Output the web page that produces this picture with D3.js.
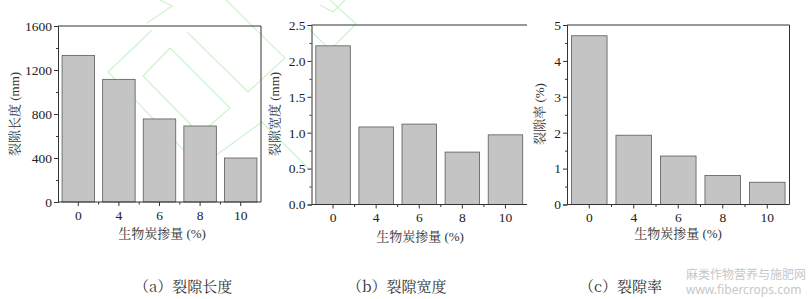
<!DOCTYPE html>
<html>
<head>
<meta charset="utf-8">
<script src="https://cdn.jsdelivr.net/npm/d3@7"></script>
<style>
  body { margin: 0; background: #fff; }
  svg { display: block; }
</style>
</head>
<body>
<div id="chart"></div>
<script>
// biochar dosage (%) - shared x categories
var dosage = ["0", "4", "6", "8", "10"];

// crack length (mm), crack width (mm), crack ratio (%)
var crackLength = [1333, 1115, 755, 691, 400];
var crackWidth = [2.21, 1.08, 1.12, 0.73, 0.97];
var crackRatio = [4.70, 1.93, 1.35, 0.81, 0.62];

var lengthTicks = [0, 400, 800, 1200, 1600];
var widthTicks = [0, 0.5, 1.0, 1.5, 2.0, 2.5];
var ratioTicks = [0, 1, 2, 3, 4, 5];

var xTitle = "生物炭掺量 (%)";

var SERIF = "'Liberation Serif', 'Noto Serif CJK SC', serif";
var SONG = "'Noto Serif CJK SC', 'Liberation Serif', serif";

var W = 809, H = 299;
var svg = d3.select("#chart").append("svg")
    .attr("width", W)
    .attr("height", H);

// faint green watermark outlines behind everything
var wm = svg.append("g").attr("fill", "none").attr("stroke", "#cdf3cd").attr("stroke-width", 1.2);
var wmShapes = [
    [[170, 48], [230, 108], [200, 134], [143, 76], [170, 48]],
    [[187, 32], [248, 92], [285, 58], [226, 0]],
    [[152, 30], [108, 72], [200, 167], [262, 122], [310, 170]],
    [[147, 23], [172, 6], [160, 0]],
    [[307, 27], [330, 50], [356, 24], [330, 0]],
    [[320, 5], [333, 12], [345, 0]]
];
wmShapes.forEach(function (pts) {
    wm.append("path").attr("d", d3.line()(pts));
});

function drawPanel(cfg) {
    var x = d3.scaleBand()
        .domain(dosage)
        .range([cfg.left, cfg.right])
        .paddingInner(0.2)
        .paddingOuter(0.1);
    var y = d3.scaleLinear()
        .domain([0, cfg.max])
        .range([cfg.bottom, cfg.top]);

    var g = svg.append("g");

    // bars
    g.selectAll("rect.bar")
        .data(cfg.values)
        .enter().append("rect")
        .attr("class", "bar")
        .attr("x", function (d, i) { return x(dosage[i]); })
        .attr("y", function (d) { return y(d); })
        .attr("width", x.bandwidth())
        .attr("height", function (d) { return cfg.bottom - y(d); })
        .attr("fill", "#c4c4c4")
        .attr("stroke", "#5a5a5a")
        .attr("stroke-width", 0.8);

    // frame: top + (optional) right
    g.append("line")
        .attr("x1", cfg.left).attr("x2", cfg.frameRight)
        .attr("y1", cfg.top).attr("y2", cfg.top)
        .attr("stroke", "#333");
    if (cfg.rightBorder) {
        g.append("line")
            .attr("x1", cfg.frameRight).attr("x2", cfg.frameRight)
            .attr("y1", cfg.top).attr("y2", cfg.bottom)
            .attr("stroke", "#333");
    }

    // y axis (major + minor)
    var ya = g.append("g")
        .attr("transform", "translate(" + cfg.left + ",0)")
        .call(d3.axisLeft(y)
            .tickValues(cfg.ticks)
            .tickFormat(cfg.fmt)
            .tickSize(4)
            .tickPadding(2));
    var step = cfg.ticks[1] - cfg.ticks[0];
    var minor = cfg.ticks.slice(0, -1).map(function (t) { return t + step / 2; });
    g.append("g")
        .attr("transform", "translate(" + cfg.left + ",0)")
        .call(d3.axisLeft(y).tickValues(minor).tickFormat("").tickSize(2).tickSizeOuter(0))
        .call(function (s) { s.select(".domain").remove(); })
        .selectAll("line").attr("stroke", "#333");

    // x axis
    var xa = g.append("g")
        .attr("transform", "translate(0," + cfg.bottom + ")")
        .call(d3.axisBottom(x).tickSize(4).tickSizeOuter(0).tickPadding(4));
    xa.select(".domain").attr("d", "M" + cfg.left + ",0H" + cfg.frameRight);
    // minor ticks between categories
    xa.selectAll("line.minor")
        .data(dosage.slice(1))
        .enter().append("line")
        .attr("class", "minor")
        .attr("x1", function (d) { return x(d) - x.step() * x.paddingInner() / 2; })
        .attr("x2", function (d) { return x(d) - x.step() * x.paddingInner() / 2; })
        .attr("y1", 0).attr("y2", 2.5)
        .attr("stroke", "#333");

    [ya, xa].forEach(function (a) {
        a.attr("font-family", SERIF).attr("font-size", 13.5);
        a.selectAll(".domain, .tick line").attr("stroke", "#333");
        a.selectAll(".tick text").attr("fill", "#222");
    });

    // titles
    g.append("text")
        .attr("transform", "translate(" + cfg.yTitleX + "," + cfg.yTitleY + ") rotate(-90)")
        .attr("text-anchor", "middle")
        .attr("font-family", SERIF)
        .attr("font-size", 13)
        .attr("fill", "#333")
        .text(cfg.yTitle);
    g.append("text")
        .attr("x", cfg.xTitleX)
        .attr("y", cfg.xTitleY)
        .attr("text-anchor", "middle")
        .attr("font-family", SERIF)
        .attr("font-size", 13)
        .attr("fill", "#333")
        .text(xTitle);

    svg.append("text")
        .attr("x", cfg.captionX)
        .attr("y", 292)
        .attr("font-family", SONG)
        .attr("font-size", 15)
        .attr("fill", "#333")
        .text(cfg.caption);
}

drawPanel({
    values: crackLength, max: 1600, ticks: lengthTicks, fmt: d3.format("d"),
    left: 58, right: 261, frameRight: 261, top: 26, bottom: 202, rightBorder: true,
    yTitle: "裂隙长度 (mm)", yTitleX: 19, yTitleY: 114, xTitleX: 162, xTitleY: 238,
    caption: "（a）裂隙长度", captionX: 134
});
drawPanel({
    values: crackWidth, max: 2.5, ticks: widthTicks, fmt: d3.format(".1f"),
    left: 311.5, right: 527, frameRight: 527, top: 25, bottom: 204.5, rightBorder: false,
    yTitle: "裂隙宽度 (mm)", yTitleX: 279, yTitleY: 114, xTitleX: 420, xTitleY: 241,
    caption: "（b）裂隙宽度", captionX: 347
});
drawPanel({
    values: crackRatio, max: 5, ticks: ratioTicks, fmt: d3.format("d"),
    left: 567, right: 789.5, frameRight: 789.5, top: 25, bottom: 204.5, rightBorder: true,
    yTitle: "裂隙率 (%)", yTitleX: 544, yTitleY: 114, xTitleX: 678, xTitleY: 238,
    caption: "（c）裂隙率", captionX: 579
});

// site watermark
svg.append("text").attr("x", 686).attr("y", 279)
    .attr("font-family", "'Noto Sans CJK SC', sans-serif").attr("font-size", 12)
    .attr("fill", "#c8c8c8").text("麻类作物营养与施肥网");
svg.append("text").attr("x", 686).attr("y", 294)
    .attr("font-family", "'Noto Sans', sans-serif").attr("font-size", 12)
    .attr("fill", "#c8c8c8").text("www.fibercrops.com");
</script>
</body>
</html>
